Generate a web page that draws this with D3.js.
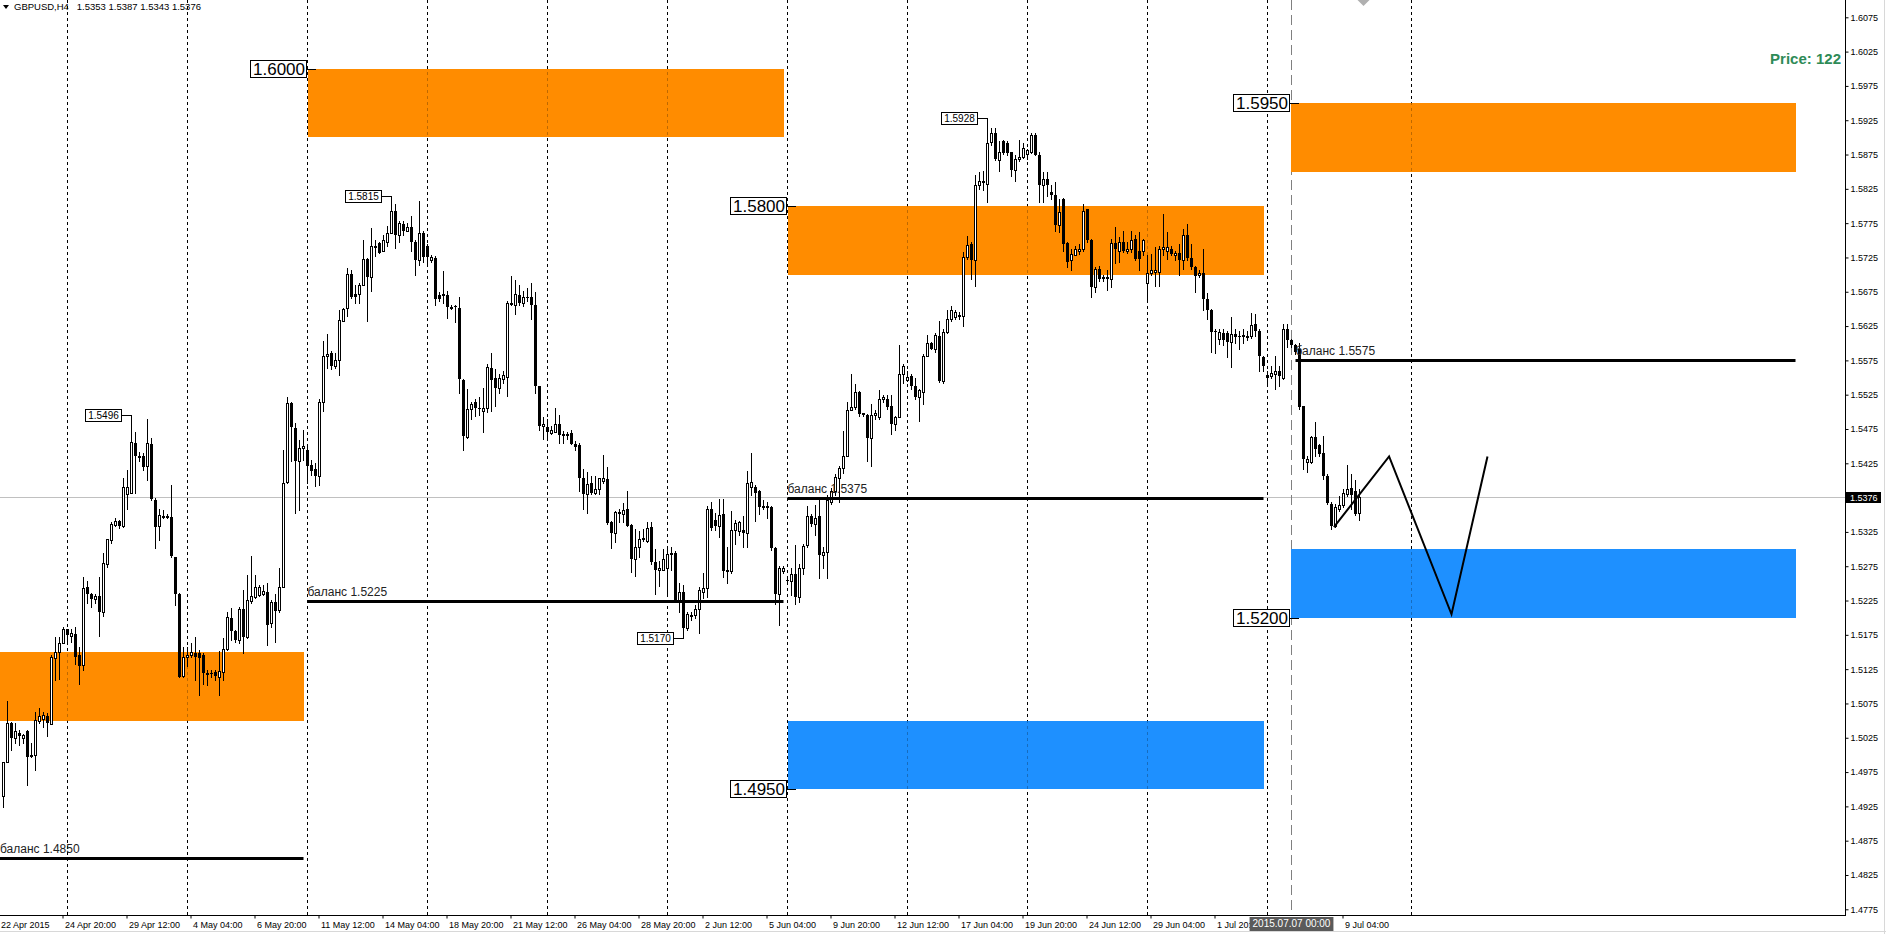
<!DOCTYPE html>
<html>
<head>
<meta charset="utf-8">
<script src="https://cdn.jsdelivr.net/npm/d3@7"></script>
<style>
  body { margin: 0; background: #fff; }
  svg { display: block; }
  text { font-family: "Liberation Sans", Arial, sans-serif; }
</style>
</head>
<body>
<svg id="chart" width="1886" height="934"></svg>
<script>
// GBPUSD H4 candles, in pips: open, high, low, close
const candles = [
[14940,14990,14924,14990],[14990,15078,14990,15046],[15046,15048,15007,15024],[15024,15046,15017,15035],
[15032,15036,15014,15027],[15024,15031,15017,15029],[15035,15036,14956,14997],[14999,15017,14997,15000],
[15000,15062,14978,15051],[15050,15068,15046,15057],[15053,15063,15040,15058],[15057,15061,15027,15046],
[15045,15146,15045,15143],[15141,15172,15109,15150],[15150,15172,15110,15163],[15163,15186,15163,15184],
[15183,15184,15165,15175],[15174,15184,15165,15177],[15176,15187,15133,15143],[15146,15158,15104,15130],
[15131,15260,15124,15243],[15244,15253,15221,15235],[15234,15236,15216,15227],[15227,15235,15221,15231],
[15231,15260,15173,15209],[15209,15294,15203,15279],[15278,15314,15274,15314],[15313,15340,15309,15336],
[15335,15345,15333,15341],[15341,15342,15330,15333],[15333,15403,15332,15390],[15380,15415,15359,15391],
[15381,15496,15381,15456],[15455,15470,15381,15435],[15435,15442,15428,15435],[15436,15440,15415,15419],
[15421,15489,15401,15454],[15453,15462,15372,15373],[15372,15374,15301,15332],[15333,15359,15313,15350],
[15348,15357,15345,15348],[15348,15351,15345,15346],[15347,15394,15289,15290],[15288,15289,15219,15234],
[15234,15236,15114,15114],[15115,15158,15114,15143],[15143,15158,15129,15146],[15145,15163,15143,15150],
[15148,15172,15109,15143],[15148,15153,15087,15141],[15145,15148,15104,15119],[15119,15124,15102,15119],
[15119,15124,15114,15118],[15121,15124,15109,15115],[15114,15151,15087,15123],[15121,15170,15109,15155],
[15154,15209,15153,15201],[15199,15214,15168,15181],[15181,15182,15165,15167],[15167,15216,15163,15213],
[15213,15240,15148,15172],[15172,15262,15170,15226],[15225,15290,15221,15231],[15230,15262,15228,15244],
[15233,15248,15231,15244],[15234,15248,15233,15239],[15238,15251,15160,15189],[15192,15226,15186,15223],
[15223,15235,15165,15210],[15211,15272,15209,15244],[15244,15445,15244,15397],[15398,15521,15396,15513],
[15513,15515,15428,15478],[15476,15484,15352,15429],[15429,15459,15357,15448],[15447,15473,15430,15450],
[15445,15449,15396,15421],[15423,15430,15408,15414],[15417,15426,15392,15407],[15407,15518,15393,15514],
[15514,15603,15501,15581],[15581,15613,15564,15585],[15586,15588,15563,15567],[15567,15586,15564,15575],
[15576,15649,15554,15634],[15632,15651,15632,15650],[15651,15710,15639,15701],[15701,15707,15666,15668],
[15672,15685,15659,15668],[15672,15688,15659,15685],[15685,15750,15685,15723],[15723,15724,15632,15697],
[15697,15768,15676,15741],[15742,15751,15727,15742],[15746,15748,15731,15732],[15734,15758,15734,15750],
[15748,15771,15742,15761],[15761,15815,15760,15792],[15792,15803,15739,15758],[15758,15778,15747,15775],
[15774,15778,15758,15764],[15764,15775,15763,15770],[15769,15785,15734,15747],[15748,15751,15700,15722],
[15721,15807,15714,15760],[15760,15763,15719,15726],[15742,15744,15714,15726],[15722,15729,15718,15726],
[15724,15727,15655,15665],[15671,15674,15661,15664],[15672,15705,15659,15669],[15671,15676,15637,15653],
[15653,15656,15650,15653],[15654,15656,15631,15653],[15651,15668,15528,15548],[15547,15548,15444,15465],
[15464,15533,15462,15504],[15504,15514,15490,15512],[15514,15518,15494,15505],[15505,15522,15496,15504],
[15501,15535,15471,15506],[15505,15569,15500,15566],[15564,15586,15501,15547],[15550,15562,15508,15535],
[15535,15555,15528,15550],[15548,15559,15542,15553],[15551,15661,15523,15659],[15659,15698,15655,15655],
[15655,15692,15643,15672],[15671,15685,15656,15659],[15658,15676,15654,15668],[15668,15681,15661,15667],
[15667,15688,15636,15656],[15656,15674,15528,15538],[15538,15538,15474,15480],[15480,15493,15460,15483],
[15478,15489,15460,15470],[15469,15479,15467,15473],[15470,15506,15470,15482],[15482,15496,15455,15466],
[15467,15472,15455,15467],[15467,15471,15461,15467],[15469,15474,15453,15453],[15453,15458,15445,15449],
[15451,15454,15385,15404],[15404,15417,15358,15380],[15380,15412,15353,15395],[15396,15406,15380,15382],
[15382,15407,15380,15388],[15387,15404,15380,15403],[15399,15437,15397,15403],[15402,15419,15336,15338],
[15339,15341,15301,15324],[15324,15356,15310,15354],[15354,15358,15339,15351],[15351,15367,15339,15357],
[15359,15385,15334,15334],[15335,15336,15266,15285],[15285,15329,15261,15303],[15303,15327,15288,15315],
[15314,15329,15312,15316],[15312,15340,15311,15330],[15332,15340,15278,15281],[15281,15300,15235,15269],
[15269,15283,15246,15272],[15270,15300,15269,15285],[15273,15301,15233,15293],[15293,15303,15270,15294],
[15294,15297,15223,15225],[15225,15250,15208,15238],[15238,15248,15170,15185],[15185,15208,15182,15205],
[15203,15209,15197,15204],[15204,15218,15200,15213],[15213,15245,15177,15240],[15238,15265,15228,15243],
[15243,15363,15230,15358],[15358,15368,15328,15331],[15342,15353,15328,15333],[15333,15373,15318,15349],
[15351,15373,15260,15268],[15268,15303,15250,15270],[15268,15356,15265,15328],[15328,15343,15308,15338],
[15326,15341,15321,15339],[15328,15348,15303,15324],[15324,15414,15303,15396],[15391,15440,15379,15398],
[15391,15394,15341,15381],[15384,15386,15351,15361],[15361,15371,15358,15363],[15361,15368,15346,15363],
[15362,15363,15298,15301],[15301,15303,15220,15235],[15235,15275,15190,15273],[15268,15275,15265,15273],
[15255,15258,15253,15253],[15253,15272,15233,15264],[15264,15306,15220,15230],[15230,15278,15223,15273],
[15273,15308,15263,15304],[15306,15363,15303,15348],[15348,15351,15333,15337],[15337,15364,15321,15346],
[15348,15373,15258,15292],[15292,15303,15273,15296],[15296,15379,15258,15371],[15369,15389,15366,15384],
[15384,15410,15379,15405],[15404,15421,15368,15418],[15418,15472,15411,15436],[15436,15514,15435,15502],
[15502,15555,15502,15507],[15507,15540,15504,15529],[15529,15530,15494,15497],[15498,15499,15494,15495],
[15495,15497,15429,15462],[15462,15512,15421,15495],[15495,15502,15489,15498],[15492,15532,15490,15519],
[15518,15525,15514,15522],[15518,15524,15504,15507],[15509,15525,15467,15482],[15482,15494,15474,15492],
[15492,15597,15492,15555],[15555,15570,15542,15567],[15547,15560,15545,15551],[15552,15555,15534,15537],
[15537,15550,15519,15522],[15522,15534,15487,15532],[15529,15585,15512,15582],[15582,15612,15581,15600],
[15601,15602,15591,15592],[15592,15615,15587,15612],[15611,15633,15544,15545],[15545,15620,15542,15617],
[15617,15648,15615,15635],[15635,15654,15633,15648],[15638,15649,15636,15646],[15639,15645,15635,15641],
[15640,15733,15625,15725],[15725,15756,15723,15743],[15745,15747,15693,15721],[15722,15845,15683,15830],
[15831,15849,15825,15837],[15835,15851,15824,15837],[15832,15928,15806,15892],[15893,15914,15889,15907],
[15907,15913,15867,15869],[15867,15894,15851,15879],[15894,15896,15876,15877],[15892,15894,15875,15877],
[15878,15879,15844,15852],[15852,15874,15836,15869],[15869,15896,15866,15872],[15871,15892,15870,15884],
[15876,15883,15869,15881],[15879,15907,15877,15904],[15903,15907,15874,15874],[15874,15879,15806,15831],
[15831,15850,15806,15840],[15840,15850,15815,15830],[15821,15830,15810,15816],[15816,15835,15764,15772],
[15772,15810,15762,15791],[15810,15812,15735,15745],[15746,15747,15711,15719],[15721,15738,15706,15730],
[15729,15742,15728,15737],[15735,15745,15730,15738],[15737,15803,15735,15792],[15795,15796,15747,15750],
[15750,15752,15667,15682],[15682,15711,15674,15708],[15708,15713,15691,15694],[15696,15699,15691,15694],
[15696,15706,15677,15694],[15693,15752,15682,15746],[15746,15769,15717,15737],[15735,15755,15718,15747],
[15747,15764,15733,15735],[15734,15747,15732,15738],[15738,15764,15733,15750],[15752,15757,15721,15723],
[15735,15762,15707,15723],[15734,15752,15728,15750],[15688,15728,15664,15703],[15702,15730,15699,15706],
[15704,15740,15684,15707],[15704,15742,15684,15738],[15737,15789,15728,15740],[15735,15762,15723,15740],
[15738,15742,15728,15730],[15728,15735,15721,15732],[15732,15745,15699,15721],[15721,15767,15708,15758],
[15758,15774,15721,15724],[15724,15745,15708,15711],[15711,15713,15674,15698],[15699,15706,15696,15703],
[15703,15737,15648,15665],[15665,15673,15635,15648],[15649,15650,15587,15616],[15618,15621,15586,15616],
[15606,15621,15599,15617],[15615,15621,15598,15604],[15615,15618,15580,15602],[15602,15638,15565,15614],
[15614,15621,15601,15609],[15610,15618,15592,15609],[15612,15621,15601,15609],[15611,15618,15604,15611],
[15611,15644,15607,15627],[15628,15643,15611,15618],[15618,15621,15560,15582],[15580,15582,15560,15567],
[15553,15559,15538,15550],[15552,15567,15550,15557],[15555,15582,15533,15560],[15560,15567,15538,15552],
[15549,15628,15548,15621],[15621,15628,15594,15605],[15604,15606,15594,15597],[15597,15599,15585,15587],
[15592,15601,15504,15507],[15508,15509,15417,15431],[15427,15436,15413,15431],[15427,15465,15426,15463],
[15463,15485,15436,15446],[15451,15453,15436,15439],[15440,15465,15402,15406],[15407,15409,15366,15367],
[15366,15368,15329,15334],[15334,15366,15332,15361],[15358,15378,15356,15364],[15364,15388,15361,15382],
[15380,15422,15378,15388],[15389,15409,15359,15379],[15384,15400,15350,15351],[15353,15387,15343,15376]
];

// time axis labels (bar number, text)
const labelBars = [0,16,32,48,64,80,96,112,128,144,160,176,192,208,224,240,256,272,288,304,336];
const labelTexts = ["22 Apr 2015","24 Apr 20:00","29 Apr 12:00","4 May 04:00","6 May 20:00","11 May 12:00",
  "14 May 04:00","18 May 20:00","21 May 12:00","26 May 04:00","28 May 20:00","2 Jun 12:00","5 Jun 04:00",
  "9 Jun 20:00","12 Jun 12:00","17 Jun 04:00","19 Jun 20:00","24 Jun 12:00","29 Jun 04:00","1 Jul 20:00",
  "9 Jul 04:00"];
const priceTicks = d3.range(0, 27).map(k => +(1.4775 + k * 0.005).toFixed(4));
const gridBars = [16,46,76,106,136,166,196,226,256,286,316,352];

// supply / demand zones
const zoneFrom = [-3, 76, 196, 196, 322, 322];
const zoneTo   = [75, 195, 315, 315, 448, 448];
const zoneHigh = [1.5150, 1.6000, 1.5800, 1.5050, 1.5950, 1.5300];
const zoneLow  = [1.5050, 1.5900, 1.5700, 1.4950, 1.5850, 1.5200];
const zoneKind = ["sell", "sell", "sell", "buy", "sell", "buy"];

// balance levels
const balFrom  = [-3, 76, 196, 323];
const balTo    = [75, 195, 315, 448];
const balPrice = [1.4850, 1.5225, 1.5375, 1.5575];

// price labels at zone edges
const zoneLabelBar   = [76, 196, 196, 322, 322];
const zoneLabelPrice = [1.6000, 1.5800, 1.4950, 1.5950, 1.5200];

// high / low marks
const markBar   = [32, 97, 170, 246];
const markPrice = [1.5496, 1.5815, 1.5170, 1.5928];

// projected path
const pathBar   = [332.6, 346.4, 362, 371];
const pathPrice = [1.5332, 1.5435, 1.5205, 1.5435];

const lastPrice = 1.5376;
const cursorBar = 322;
const cursorText = "2015.07.07 00:00";
const headerText = "GBPUSD,H4\u00a0\u00a0 1.5353 1.5387 1.5343 1.5376";

const svg = d3.select("#chart");
const plotRight = 1845, plotBottom = 915;

const x = d3.scaleLinear().domain([0, 460]).range([3.5, 3.5 + 460 * 4]);
const y = d3.scaleLinear().domain([1.4775, 1.6075]).range([909.3, 17.3]);
const ry = p => Math.round(y(p));

const bars = candles.map((c, i) => ({ i, o: c[0] / 1e4, h: c[1] / 1e4, l: c[2] / 1e4, c: c[3] / 1e4 }));

const plot = svg.append("g");

// last price line
plot.append("line")
  .attr("x1", 0).attr("x2", plotRight)
  .attr("y1", ry(lastPrice) + 0.5).attr("y2", ry(lastPrice) + 0.5)
  .attr("stroke", "#c0c0c0");

// grid
const drawGrid = (op) => plot.append("g").selectAll("line").data(gridBars).join("line")
  .attr("x1", d => x(d)).attr("x2", d => x(d))
  .attr("y1", 0).attr("y2", plotBottom)
  .attr("stroke", "#000").attr("stroke-opacity", op)
  .attr("stroke-dasharray", "3,3");
drawGrid(1);

// cursor line
plot.append("line")
  .attr("x1", x(cursorBar)).attr("x2", x(cursorBar))
  .attr("y1", 0).attr("y2", plotBottom)
  .attr("stroke", "#808080").attr("stroke-dasharray", "10,5");

// zones
plot.append("g").selectAll("rect").data(zoneFrom.map((f, k) => k)).join("rect")
  .attr("x", k => Math.round(x(zoneFrom[k])))
  .attr("width", k => Math.round(x(zoneTo[k])) - Math.round(x(zoneFrom[k])))
  .attr("y", k => ry(zoneHigh[k]))
  .attr("height", k => ry(zoneLow[k]) - ry(zoneHigh[k]))
  .attr("fill", k => zoneKind[k] === "sell" ? "#ff8c00" : "#1e90ff");
drawGrid(0.25);

// candles
const cg = plot.append("g").attr("shape-rendering", "crispEdges");
cg.selectAll("line").data(bars).join("line")
  .attr("x1", d => x(d.i)).attr("x2", d => x(d.i))
  .attr("y1", d => ry(d.h)).attr("y2", d => ry(d.l) + 1)
  .attr("stroke", "#000");
cg.selectAll("rect.up").data(bars.filter(d => d.c >= d.o)).join("rect")
  .attr("class", "up")
  .attr("x", d => x(d.i) - 1).attr("width", 2)
  .attr("y", d => ry(d.c) + 0.5)
  .attr("height", d => Math.max(1, ry(d.o) - ry(d.c)))
  .attr("fill", "#fff").attr("stroke", "#000");
cg.selectAll("rect.dn").data(bars.filter(d => d.c < d.o)).join("rect")
  .attr("class", "dn")
  .attr("x", d => x(d.i) - 1.5).attr("width", 3)
  .attr("y", d => ry(d.o))
  .attr("height", d => Math.max(1, ry(d.c) - ry(d.o)))
  .attr("fill", "#000");

// balance lines
const bg = plot.append("g");
bg.selectAll("line").data(balPrice).join("line")
  .attr("x1", (d, k) => x(balFrom[k])).attr("x2", (d, k) => x(balTo[k]))
  .attr("y1", d => ry(d) + 0.5).attr("y2", d => ry(d) + 0.5)
  .attr("stroke", "#000").attr("stroke-width", 3);
bg.selectAll("text").data(balPrice).join("text")
  .attr("x", (d, k) => Math.max(0, x(balFrom[k])))
  .attr("y", d => ry(d) - 5)
  .attr("font-size", 12).attr("fill", "#222")
  .text(d => "баланс " + d.toFixed(4));

// projected path
plot.append("path")
  .datum(pathBar.map((b, k) => [x(b), y(pathPrice[k])]))
  .attr("d", d3.line())
  .attr("fill", "none").attr("stroke", "#000").attr("stroke-width", 2);

// zone price labels
const zl = plot.append("g");
zoneLabelPrice.forEach((p, k) => {
  const xr = Math.round(x(zoneLabelBar[k])) - 1;
  const yy = ry(p);
  zl.append("line").attr("x1", xr).attr("x2", xr + 9).attr("y1", yy + 0.5).attr("y2", yy + 0.5).attr("stroke", "#000");
  const box = zl.append("rect");
  const t = zl.append("text").attr("font-size", 17).attr("fill", "#000")
    .attr("text-anchor", "end").attr("x", xr - 2).attr("y", yy + 6).text(p.toFixed(4));
  const w = t.node().getComputedTextLength();
  box.attr("x", xr - w - 4.5).attr("y", yy - 8.5).attr("width", w + 4).attr("height", 17)
    .attr("fill", "#fff").attr("stroke", "#000");
});

// high / low marks
const ml = plot.append("g");
markPrice.forEach((p, k) => {
  const xc = x(markBar[k]);
  const xr = Math.round(xc - 9.5);
  const yy = ry(p);
  ml.append("line").attr("x1", xr).attr("x2", xc).attr("y1", yy + 0.5).attr("y2", yy + 0.5).attr("stroke", "#000");
  ml.append("rect").attr("x", xr - 36.5).attr("y", yy - 5.5).attr("width", 36).attr("height", 12)
    .attr("fill", "#fff").attr("stroke", "#000");
  ml.append("text").attr("font-size", 10).attr("text-anchor", "middle")
    .attr("x", xr - 18.5).attr("y", yy + 4).text(p.toFixed(4));
});

// price axis
const yAxis = d3.axisRight(y).tickValues(priceTicks).tickSize(3).tickPadding(2).tickFormat(d3.format(".4f"));
svg.append("g")
  .attr("transform", `translate(${plotRight + 0.5},0)`)
  .call(yAxis)
  .call(g => g.select(".domain").remove())
  .call(g => g.selectAll("text").attr("font-size", 9).attr("font-family", "Liberation Sans, Arial, sans-serif").attr("fill", "#000"))
  .call(g => g.selectAll("line").attr("stroke", "#000"));

// time axis
const xAxis = d3.axisBottom(x).tickValues(labelBars).tickFormat((d, k) => labelTexts[k]).tickSize(3).tickPadding(3);
svg.append("g")
  .attr("transform", `translate(0,${plotBottom + 0.5})`)
  .call(xAxis)
  .call(g => g.select(".domain").remove())
  .call(g => g.selectAll("text").attr("font-size", 9).attr("font-family", "Liberation Sans, Arial, sans-serif")
    .attr("fill", "#000").attr("text-anchor", "start").attr("x", -3))
  .call(g => g.selectAll("line").attr("stroke", "#000").attr("transform", "translate(-5,0)"));

// frame lines
svg.append("line").attr("x1", plotRight + 0.5).attr("x2", plotRight + 0.5).attr("y1", 0).attr("y2", plotBottom + 1).attr("stroke", "#000");
svg.append("line").attr("x1", 0).attr("x2", plotRight + 1).attr("y1", plotBottom + 0.5).attr("y2", plotBottom + 0.5).attr("stroke", "#000");
svg.append("line").attr("x1", 1884.5).attr("x2", 1884.5).attr("y1", 0).attr("y2", 934).attr("stroke", "#d8d8d8");
svg.append("line").attr("x1", 0).attr("x2", 1886).attr("y1", 931.5).attr("y2", 931.5).attr("stroke", "#d8d8d8");

// current price tag
svg.append("rect").attr("x", plotRight + 1).attr("y", ry(lastPrice) - 5).attr("width", 35).attr("height", 11).attr("fill", "#000");
svg.append("text").attr("x", plotRight + 5).attr("y", ry(lastPrice) + 3.5).attr("font-size", 9).attr("fill", "#fff").text(lastPrice.toFixed(4));

// cursor time tag
const tagBox = svg.append("rect");
const ct = svg.append("text").attr("font-size", 10).attr("fill", "#fff").attr("text-anchor", "middle")
  .attr("x", x(cursorBar)).attr("y", plotBottom + 12).text(cursorText);
const cw = ct.node().getComputedTextLength();
tagBox.attr("x", x(cursorBar) - cw / 2 - 3).attr("y", plotBottom + 2)
  .attr("width", cw + 6).attr("height", 14).attr("fill", "#5a5a5a");

// shift marker
const sx = x(bars.length);
svg.append("path").attr("d", `M${sx - 6},0L${sx + 6},0L${sx},6Z`).attr("fill", "#b0b0b0");

// header
svg.append("path").attr("d", "M3,5L9,5L6,9Z").attr("fill", "#000");
svg.append("text").attr("x", 14).attr("y", 10).attr("font-size", 9.5).attr("fill", "#000").text(headerText);

// price note
svg.append("text").attr("x", 1841).attr("y", 64).attr("text-anchor", "end")
  .attr("font-size", 15).attr("font-weight", "bold").attr("fill", "#2e8b57").text("Price: 122");
</script>
</body>
</html>
